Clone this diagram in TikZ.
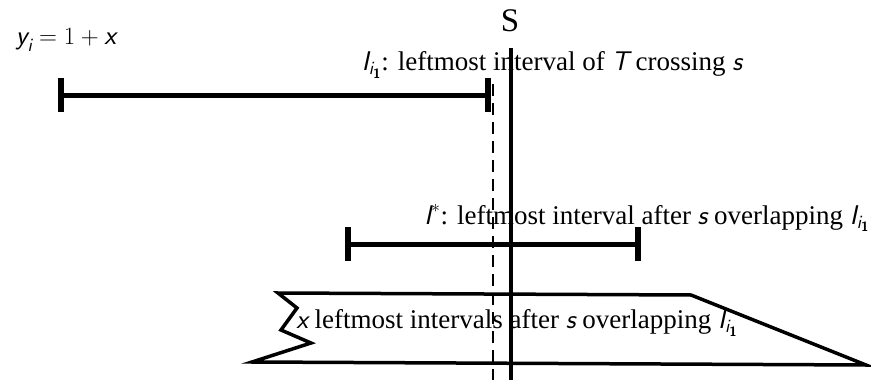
\documentclass[tikz,border=0pt]{standalone}
\usepackage{amsmath}
\usepackage{fontspec}
\setmainfont{Liberation Serif}
\usepackage{tikz}
\usetikzlibrary{arrows.meta,positioning,calc}
\newcommand{\mv}[1]{\text{\sffamily\itshape #1}}
\newcommand{\Ione}{\mv{I}_{\mv{i}_{\text{\sffamily\bfseries 1}}}}

\begin{document}
\begin{tikzpicture}[x=1pt,y=-1pt,
    lbl/.style={inner sep=0pt,font=\fontsize{27}{30}\selectfont},
    intv/.style={line width=5pt,{Bar[width=34pt,line width=6pt]}-{Bar[width=34pt,line width=6pt]}},
    sline/.style={line width=4pt},
    dline/.style={line width=1.8pt,dash pattern=on 12pt off 7pt},
    block/.style={line width=3.5pt,line join=miter}
  ]
    \useasboundingbox (0,0) rectangle (871,380);
    % the line s and its left copy
    \node[font=\fontsize{33}{36}\selectfont,inner sep=0pt] (s) at (510,21) {S};
    \coordinate (stop) at (511,48);
    \coordinate (sbot) at (511,380);
    \coordinate (dtop) at (493,84);
    \coordinate (dbot) at (493,380);
    \draw[dline] (dtop)--(dbot);
    \draw[sline] (stop)--(sbot);
    % intervals
    \coordinate (a1) at (58,95);
    \coordinate (b1) at (491,95);
    \coordinate (a2) at (345,244);
    \coordinate (b2) at (641,244);
    \draw[intv] (a1)--(b1);
    \draw[intv] (a2)--(b2);
    % block of x intervals
    \draw[block] (278,293) coordinate (p1) -- (691,295) coordinate (p2)
      -- (866,365) coordinate (p3) -- (252,362) coordinate (p4)
      -- (311,343) -- (281,330) -- (297,308) -- cycle;
    % labels
    \node[lbl] (yi) at (66,40) {$\mv{y}_{\mv{i}} = 1 + \mv{x}$};
    \node[lbl] (first) at (552,65) {$\Ione$: leftmost interval of $\mv{T}$ crossing $\mv{s}$};
    \node[lbl] (star) at (647,218) {$\mv{I}^{*}$: leftmost interval after $\mv{s}$ overlapping $\Ione$};
    \node[lbl] (rest) at (517,323) {$\mv{x}$ leftmost intervals after $\mv{s}$ overlapping $\Ione$};
  \end{tikzpicture}
\end{document}
